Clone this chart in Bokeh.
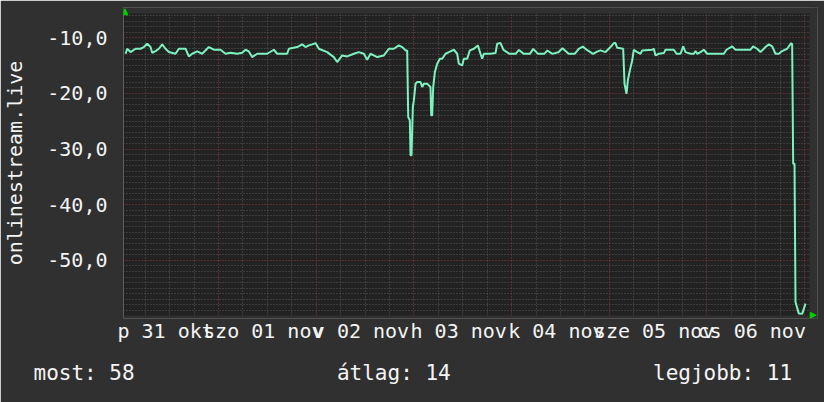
from bokeh.plotting import figure
from bokeh.models import FixedTicker, Grid, Arrow, NormalHead, Range1d, BoxAnnotation, Title
from bokeh.embed import file_html
from bokeh.resources import INLINE

# ---- data (hours after 2014-10-31 00:00, value = -rank) ----
HOURS = [1.16, 1.57, 2.39, 3.61, 4.84, 5.66, 6.48, 7.30, 7.71, 8.53,
         9.35, 10.17, 10.98, 11.80, 13.44, 14.26, 15.90, 16.72, 17.53, 18.76,
         19.99, 21.63, 22.86, 24.49, 25.72, 26.95, 28.59, 29.82, 30.64, 31.45,
         32.27, 33.50, 35.96, 37.60, 38.41, 40.87, 41.28, 43.33, 44.55, 45.37,
         46.19, 47.01, 47.83, 48.65, 50.70, 52.33, 53.15, 54.38, 55.61, 57.25,
         58.47, 59.70, 60.52, 61.34, 62.98, 64.62, 65.85, 67.07, 68.30, 69.12,
         69.94,
         70.35, 70.60, 71.00, 71.17, 71.41, 71.74, 71.99, 72.40, 72.81, 73.63,
         74.04, 74.44, 75.26, 75.67, 76.08, 76.25, 76.49, 76.74, 77.15, 77.72,
         78.37, 78.95, 79.77, 80.59, 81.81, 82.63, 83.04, 83.86, 84.27, 85.09,
         85.74, 86.73, 87.71, 88.36, 88.77, 89.18, 90.82, 92.05, 92.46, 93.28,
         94.0, 95.5, 97.0, 97.8, 99.0, 100.5, 101.3, 102.5, 104.0, 104.8,
         106.0, 107.5, 108.5, 110.0, 111.5, 112.5, 113.5, 114.5, 116.0, 117.0,
         117.84, 119.07, 120.30, 121.12, 121.52, 121.93, 123.41, 123.74, 124.23, 124.55,
         125.05, 125.62, 126.03, 126.85, 127.67, 128.08, 130.53, 130.94, 131.35, 132.17,
         133.40, 133.81, 135.85, 136.51, 137.49, 138.15, 138.72, 139.95, 140.77, 141.18,
         141.59, 142.40, 143.22, 144.04, 148.14, 148.79, 150.18, 151.00, 154.69, 155.34,
         156.32, 157.14, 158.37, 159.19, 160.01, 160.83, 161.65, 162.46, 163.69, 164.68,
         164.92, 165.17, 165.50, 165.74, 166.56, 167.38, 168.20]

VALUES = [-12.88, -11.98, -12.58, -11.98, -11.98, -11.68, -11.08, -11.68, -12.70, -12.40,
          -11.98, -11.20, -11.98, -12.58, -12.88, -11.98, -11.98, -13.36, -12.88, -12.46,
          -12.88, -11.68, -12.16, -12.16, -12.88, -12.70, -12.88, -12.70, -12.16, -12.46,
          -13.48, -12.88, -12.88, -12.16, -12.88, -12.88, -11.98, -11.68, -11.20, -11.68,
          -11.38, -11.20, -10.96, -11.98, -12.58, -13.48, -14.37, -13.18, -13.36, -12.88,
          -12.58, -12.88, -13.96, -12.88, -13.48, -13.18, -11.98, -11.98, -11.38, -11.68,
          -12.28,
          -12.28, -24.25, -24.85, -31.13, -31.13, -22.45, -21.26, -18.26, -17.97, -17.97,
          -18.86, -18.26, -18.26, -18.56, -18.86, -23.95, -23.95, -18.86, -16.17, -14.67,
          -13.78, -13.78, -12.88, -12.58, -12.16, -12.88, -14.67, -14.97, -13.78, -13.78,
          -12.28, -11.98, -11.38, -12.88, -13.78, -12.88, -12.88, -12.76, -11.08, -10.96,
          -12.2, -12.9, -12.9, -12.2, -12.9, -12.9, -12.0, -12.9, -12.9, -12.3,
          -12.9, -12.6, -11.9, -12.9, -12.9, -12.0, -11.6, -12.2, -12.9, -12.5,
          -12.28, -12.58, -11.68, -10.96, -10.96, -11.80, -11.98, -18.26, -20.06, -17.67,
          -15.87, -14.08, -12.16, -12.58, -12.88, -12.28, -12.16, -11.98, -13.18, -12.88,
          -12.76, -12.16, -12.16, -12.88, -12.88, -11.56, -12.58, -12.88, -12.88, -12.40,
          -12.88, -12.58, -12.16, -12.88, -12.88, -12.16, -11.56, -12.16, -12.16, -11.56,
          -11.98, -12.58, -11.68, -11.20, -11.56, -12.88, -12.88, -12.40, -11.98, -10.96,
          -11.20, -32.63, -32.63, -57.46, -59.56, -59.60, -57.76]

DAY_LABELS = ["p 31 okt", "szo 01 nov", "v 02 nov", "h 03 nov",
              "k 04 nov", "sze 05 nov", "cs 06 nov"]
Y_TICKS = [-50, -40, -30, -20, -10]
Y_TITLE = "onlinestream.live"
LEGEND_NAMES = ["most", "átlag", "legjobb"]
LEGEND_VALUES = [58, 14, 11]

assert len(HOURS) == len(VALUES)

# ---- layout / styling ----
IN_X = (0.66, 169.18)          # visible chart area (hours)
IN_Y = (-59.9, -5.65)          # visible chart area (values)
IN_LEFT, IN_TOP = 123, 13      # its top-left corner in px
IN_W, IN_H = 686, 302          # its size in px
PX_H = IN_W / (IN_X[1] - IN_X[0])
PX_U = IN_H / (IN_Y[1] - IN_Y[0])
EXT_TOP, EXT_RIGHT, EXT_BOTTOM = 6, 8, 3   # extra frame room for the axis arrows
FR_X = (IN_X[0], IN_X[1] + EXT_RIGHT / PX_H)
FR_Y = (IN_Y[0] - EXT_BOTTOM / PX_U, IN_Y[1] + EXT_TOP / PX_U)
LABEL_HOUR = 11                # day labels sit just before midday, as in the original

W, H = 824, 402

PAGE_BG = "#303030"
CANVAS_BG = "#222222"
GRID_GRAY = "#575757"
GRID_RED = "#8c3a3a"
LINE_COL = "#7cf2c0"
ARROW_COL = "#00d000"
TEXT_COL = "#f4f4f4"
FONT = "DejaVu Sans Mono"

p = figure(width=W, height=H, output_backend="svg", toolbar_location=None,
           title=None,
           x_range=Range1d(*FR_X), y_range=Range1d(*FR_Y),
           min_border_left=IN_LEFT, min_border_right=W - IN_LEFT - IN_W - EXT_RIGHT,
           min_border_top=IN_TOP - EXT_TOP,
           min_border_bottom=H - IN_TOP - IN_H - EXT_BOTTOM)
p.background_fill_color = CANVAS_BG
p.border_fill_color = PAGE_BG
p.outline_line_color = None

# axes
label_ticks = [LABEL_HOUR + 24 * i for i in range(len(DAY_LABELS))]
p.xaxis.ticker = FixedTicker(ticks=label_ticks)
p.xaxis.major_label_overrides = {t: lab for t, lab in zip(label_ticks, DAY_LABELS)}
p.yaxis.ticker = FixedTicker(ticks=Y_TICKS)
p.yaxis.major_label_overrides = {t: f"{t:.1f}".replace(".", ",") for t in Y_TICKS}
for ax in (p.xaxis[0], p.yaxis[0]):
    ax.major_label_text_font = FONT
    ax.major_label_text_font_size = "20px"
    ax.major_label_text_color = TEXT_COL
    ax.major_tick_out = 0
    ax.major_tick_in = 0
    ax.minor_tick_out = 0
    ax.minor_tick_in = 0
    ax.axis_line_color = None
p.xaxis.major_label_standoff = 0
p.yaxis.major_label_standoff = 16
p.yaxis.axis_label = Y_TITLE
p.yaxis.axis_label_text_font = FONT
p.yaxis.axis_label_text_font_size = "20px"
p.yaxis.axis_label_text_font_style = "normal"
p.yaxis.axis_label_text_color = TEXT_COL
p.yaxis.axis_label_standoff = 17

# grids
p.xgrid.visible = False
p.ygrid.visible = False
minor_y = [v for v in range(-59, -5) if v % 10 != 0]
minor_x = [h for h in range(6, int(IN_X[1]) + 1, 6) if h % 24 != 0]
major_x = [h for h in range(24, int(IN_X[1]) + 1, 24)]
for dim, ticks, col in ((1, minor_y, GRID_GRAY), (0, minor_x, GRID_GRAY),
                        (1, Y_TICKS, GRID_RED), (0, major_x, GRID_RED)):
    p.add_layout(Grid(dimension=dim, ticker=FixedTicker(ticks=ticks),
                      grid_line_color=col, grid_line_dash="1 2", grid_line_width=1))

# page-coloured strips around the chart area (room for the arrows)
for kw in (dict(bottom=IN_Y[1]), dict(left=IN_X[1]), dict(top=IN_Y[0])):
    p.add_layout(BoxAnnotation(fill_color=PAGE_BG, fill_alpha=1.0, line_color=None,
                               level="glyph", **kw))

# series
p.line(x=HOURS, y=VALUES, line_color=LINE_COL, line_width=2)

# axis arrows
ax_x = IN_X[0] + 1.5 / PX_H
p.add_layout(Arrow(end=NormalHead(size=6, fill_color=ARROW_COL, line_color=ARROW_COL),
                   x_start=ax_x, x_end=ax_x,
                   y_start=IN_Y[1], y_end=IN_Y[1] + 4.7 / PX_U, line_alpha=0))
ax_y = IN_Y[0] + 0.3 / PX_U
p.add_layout(Arrow(end=NormalHead(size=6, fill_color=ARROW_COL, line_color=ARROW_COL),
                   x_start=IN_X[1], x_end=IN_X[1] + 6.7 / PX_H,
                   y_start=ax_y, y_end=ax_y, line_alpha=0))

# legend row under the chart (monospace, columns aligned with no-break spaces)
LEG_FONT_PX = 21
CHAR_W = 0.602 * LEG_FONT_PX
items = [f"{n}: {v}" for n, v in zip(LEGEND_NAMES, LEGEND_VALUES)]
starts_px = [33, 334, 791 - len(items[2]) * CHAR_W]
legend_text = ""
for s, it in zip(starts_px, items):
    col = int(round((s - starts_px[0]) / CHAR_W))
    legend_text += "\u00a0" * max(1, col - len(legend_text)) if legend_text else ""
    legend_text += it
p.add_layout(Title(text=legend_text, align="left", offset=starts_px[0] - IN_LEFT,
                   text_font=FONT, text_font_size=f"{LEG_FONT_PX}px",
                   text_font_style="normal", text_color=TEXT_COL, standoff=27,
                   background_fill_color=None), "below")

html = file_html(p, INLINE)
html = html.replace("<body>", f'<body style="margin:0;background-color:{PAGE_BG};">', 1)
open("out.html", "w").write(html)
